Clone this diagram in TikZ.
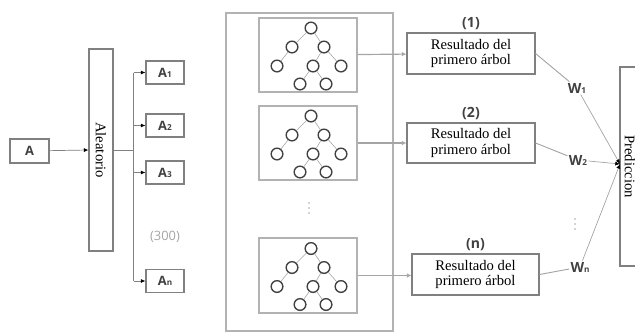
\documentclass[tikz,border=0pt]{standalone}
\usepackage{fontspec}
\setmainfont{Liberation Serif}
\setsansfont{Open Sans}
\usetikzlibrary{arrows.meta, positioning}
\definecolor{bordegris}{RGB}{128,128,128}
\definecolor{cajagris}{RGB}{178,178,178}
\definecolor{lineagris}{RGB}{165,165,165}
\definecolor{textogris}{RGB}{65,65,65}
\tikzstyle{dato}=[rectangle, draw=bordegris, line width=0.9pt, minimum width=1.14cm, minimum height=0.69cm, inner sep=0pt, text=textogris, font=\sffamily\bfseries\fontsize{11}{12}\selectfont]
\tikzstyle{vertical}=[rectangle, draw=bordegris, line width=0.9pt, rotate=-90, minimum height=0.72cm, inner sep=0pt, font=\fontsize{12.5}{13}\selectfont]
\tikzstyle{arbolcaja}=[rectangle, draw=cajagris, line width=1.2pt, minimum width=2.94cm, minimum height=2.22cm]
\tikzstyle{resultado}=[rectangle, draw=bordegris, line width=0.9pt, minimum width=3.84cm, minimum height=1.23cm, align=center, inner sep=1pt, font=\fontsize{12.5}{13}\selectfont]
\tikzstyle{etiqueta}=[text=textogris, inner sep=1pt, font=\sffamily\bfseries\fontsize{12}{13}\selectfont]
\tikzstyle{hoja}=[circle, draw=textogris, line width=1.2pt, minimum size=0.35cm, inner sep=0pt]
\tikzstyle{rama}=[draw=lineagris, line width=0.5pt]
\tikzstyle{linea}=[draw=bordegris, line width=0.6pt]
\tikzstyle{arrow}=[linea, -{Latex[black, length=4pt, width=3.5pt]}]
\tikzstyle{arrowgris}=[draw=lineagris, line width=1pt, -{Latex[lineagris, length=4pt, width=4pt]}]
\tikzstyle{peso}=[draw=lineagris, line width=0.8pt]
\tikzstyle{punto}=[fill=lineagris]
\newcommand{\indice}[1]{{\fontsize{7}{8}\selectfont #1}}
% small tree drawn inside a box
\newcommand{\arbol}[1]{%
  \foreach \nm/\dx/\dy in {r/3/-27, a/-16/-8, b/16/-8, c/-31/11, d/5/11, e/33/11, f/-8/29, g/18/29}
    \node[hoja] (#1-\nm) at ([shift={(\dx,\dy)}]#1.center) {};
  \foreach \u/\v in {r/a, r/b, a/c, b/d, b/e, d/f, d/g}
    \draw[rama] (#1-\u) -- (#1-\v);
}
% three vertical dots
\newcommand{\puntos}[1]{%
  \foreach \dy in {-5,0,5}
    \fill[punto] ([shift={(0,\dy)}]#1) circle (0.7pt);
}

\begin{document}
\begin{tikzpicture}[x=0.03cm, y=-0.03cm]
	\useasboundingbox (0,0) rectangle (635,332);
	\clip (0,0) rectangle (635,332);
	
	\node(a)[dato, minimum width=1.17cm, minimum height=0.72cm] at (29.5,151){A};
	\node(alea)[vertical, minimum width=6.06cm] at (101,150){Aleatorio};
	
	\node(a1)[dato] at (165,72.5){A\indice{1}};
	\node(a2)[dato] at (165,125.5){A\indice{2}};
	\node(a3)[dato] at (165,172.5){A\indice{3}};
	\node(an)[dato] at (165,281){A\indice{n}};
	\node(n300)[text=lineagris, font=\sffamily\fontsize{11}{12}\selectfont] at (165,237){(300)};
	
	% forest
	\node(bosque)[rectangle, draw=cajagris, line width=1.2pt, minimum width=5.01cm, minimum height=9.54cm] at (309.5,172){};
	\node(t1)[arbolcaja] at (308,55){};
	\node(t2)[arbolcaja] at (308,143){};
	\node(t3)[arbolcaja, minimum height=2.25cm] at (308,275.5){};
	\arbol{t1}
	\arbol{t2}
	\arbol{t3}
	\coordinate(puntos1) at (309,208);
	\puntos{puntos1}
	
	\node(r1)[resultado] at (471,53.5){Resultado del\\primero árbol};
	\node(r2)[resultado, minimum height=1.2cm] at (471,143){Resultado del\\primero árbol};
	\node(rn)[resultado, minimum width=3.81cm] at (475.5,274.5){Resultado del\\primero árbol};
	\node(l1)[etiqueta, above=1pt of r1]{(1)};
	\node(l2)[etiqueta, above=1pt of r2]{(2)};
	\node(ln)[etiqueta, above=1pt of rn]{(n)};
	
	\node(w1)[etiqueta] at (577,88){W\indice{1}};
	\node(w2)[etiqueta] at (578,160){W\indice{2}};
	\node(wn)[etiqueta] at (580,267){W\indice{n}};
	\coordinate(puntos2) at (575,224);
	\puntos{puntos2}
	
	\node(pred)[vertical, minimum width=5.97cm, minimum height=0.6cm] at (630,166.5){Prediccion};
	\coordinate(meta) at (620,164);
	
	\draw[arrow](a)--(alea.south);
	\draw[linea](alea.north)--++(20,0) coordinate(rama);
	\draw[linea](rama|-a1)--(rama|-an);
	\draw[arrow](rama|-a1)--(a1);
	\draw[arrow](rama|-a2)--(a2);
	\draw[arrow](rama|-a3)--(a3);
	\draw[arrow](rama|-an)--(an);
	
	\draw[arrowgris](t1)--(r1);
	\draw[arrowgris](t2)--(r2);
	\draw[arrowgris](t3)--(t3-|rn.west);
	
	\draw[peso](r1.east)--(w1);
	\draw[peso](r2.east)--(w2);
	\draw[peso](rn.east)--(wn);
	\draw[arrow, draw=lineagris](w1)--(meta);
	\draw[arrow, draw=lineagris](w2)--(meta);
	\draw[arrow, draw=lineagris](wn)--(meta);
	
\end{tikzpicture}
\end{document}
